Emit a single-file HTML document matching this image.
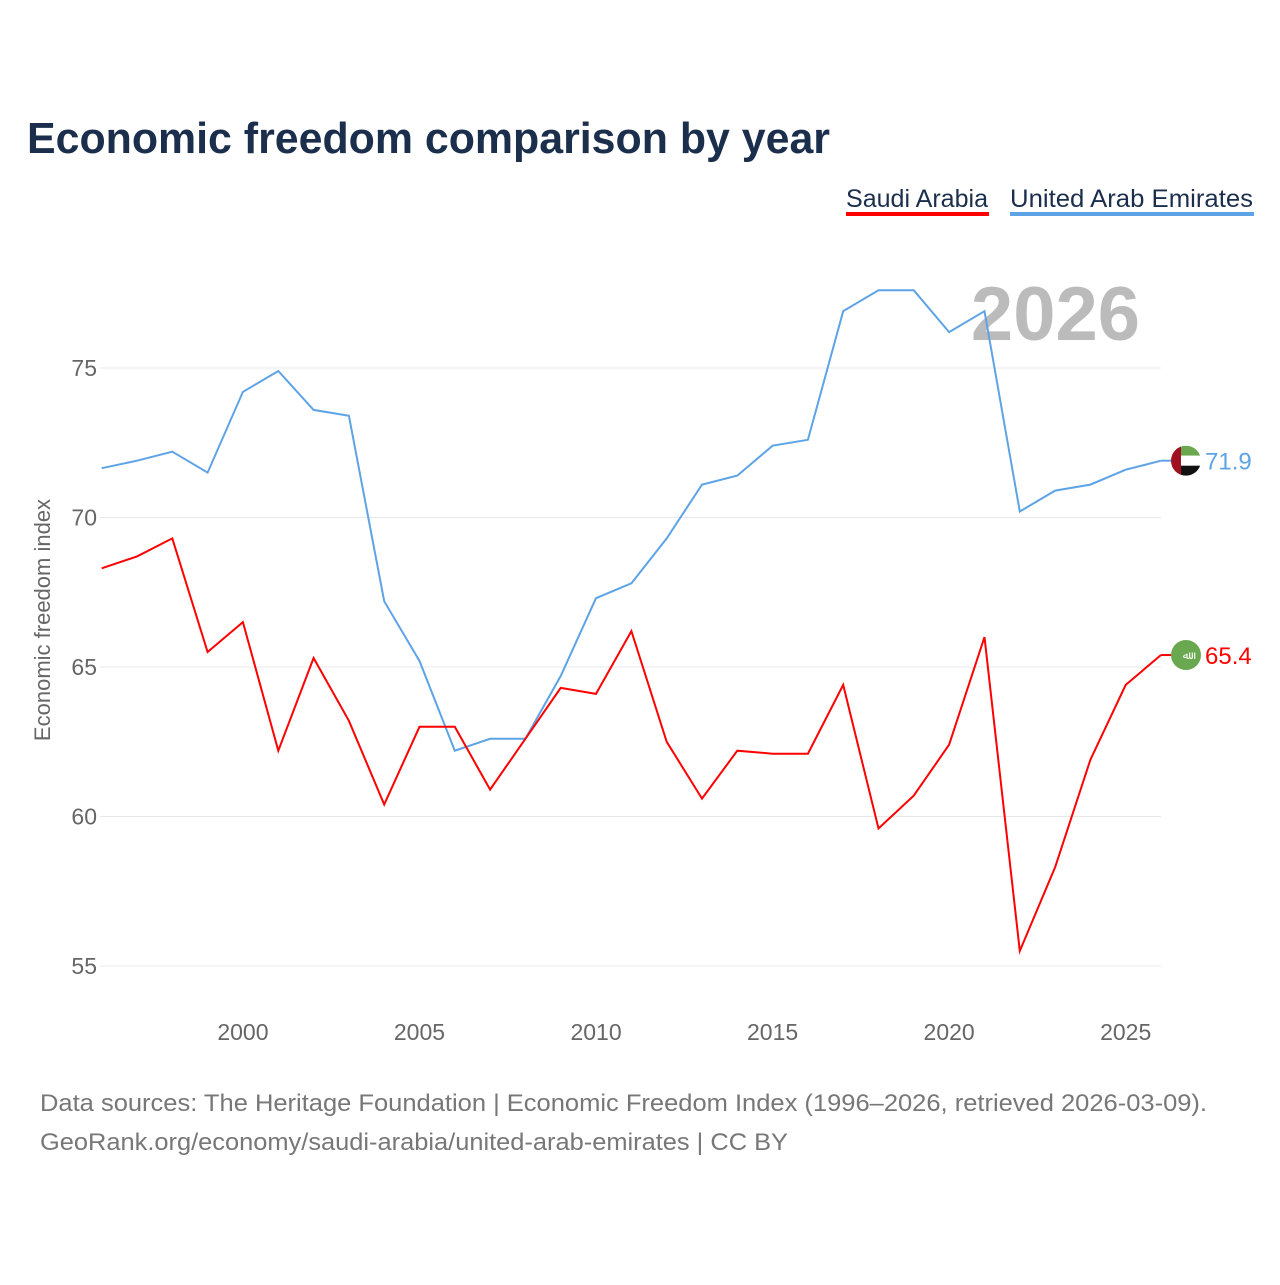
<!DOCTYPE html>
<html><head><meta charset="utf-8"><style>
body{margin:0;background:#fff;width:1280px;height:1280px;overflow:hidden;font-family:"Liberation Sans",sans-serif}
</style></head><body>
<svg id="chart" width="1280" height="1280" xmlns="http://www.w3.org/2000/svg">
<defs><clipPath id="fc"><circle cx="1186" cy="0" r="15"/></clipPath></defs>
<text x="27" y="153" font-size="44" font-weight="bold" fill="#1b2f4d" textLength="803" lengthAdjust="spacingAndGlyphs">Economic freedom comparison by year</text>
<g><text x="846" y="207" font-size="25" fill="#1b2f4d" textLength="142" lengthAdjust="spacingAndGlyphs">Saudi Arabia</text><rect x="846" y="212" width="143" height="4" fill="#ff0000"/></g>
<g><text x="1010" y="207" font-size="25" fill="#1b2f4d" textLength="243" lengthAdjust="spacingAndGlyphs">United Arab Emirates</text><rect x="1010" y="212" width="244" height="4" fill="#5ea3e6"/></g>
<text x="1140" y="340" text-anchor="end" font-size="76" font-weight="bold" fill="#bbbbbb">2026</text>
<text transform="translate(50,620) rotate(-90)" text-anchor="middle" font-size="22" fill="#666">Economic freedom index</text>
<g id="grid"></g><g id="lines"></g><g id="ends"></g>
<text x="40" y="1111" font-size="24" fill="#777" textLength="1167" lengthAdjust="spacingAndGlyphs">Data sources: The Heritage Foundation | Economic Freedom Index (1996–2026, retrieved 2026-03-09).</text>
<text x="40" y="1150" font-size="24" fill="#777" textLength="748" lengthAdjust="spacingAndGlyphs">GeoRank.org/economy/saudi-arabia/united-arab-emirates | CC BY</text>
</svg>
<script>
const years=[1996,1997,1998,1999,2000,2001,2002,2003,2004,2005,2006,2007,2008,2009,2010,2011,2012,2013,2014,2015,2016,2017,2018,2019,2020,2021,2022,2023,2024,2025,2026];
const uae=[71.65,71.9,72.2,71.5,74.2,74.9,73.6,73.4,67.2,65.2,62.2,62.6,62.6,64.7,67.3,67.8,69.3,71.1,71.4,72.4,72.6,76.9,77.6,77.6,76.2,76.9,70.2,70.9,71.1,71.6,71.9];
const saudi=[68.3,68.7,69.3,65.5,66.5,62.2,65.3,63.2,60.4,63.0,63.0,60.9,62.6,64.3,64.1,66.2,62.5,60.6,62.2,62.1,62.1,64.4,59.6,60.7,62.4,66.0,55.5,58.3,61.9,64.4,65.4];
const yTicks=[55,60,65,70,75];
const xTicks=[2000,2005,2010,2015,2020,2025];
const NS="http://www.w3.org/2000/svg";
const x=v=>101.7+(v-1996)*(1161-101.7)/30;
const y=v=>368+(75-v)*29.9;
function mk(t,a,p){const e=document.createElementNS(NS,t);for(const k in a)e.setAttribute(k,a[k]);p.appendChild(e);return e;}
const grid=document.getElementById('grid');
yTicks.forEach(t=>{
 const l=mk('line',{x1:100,x2:1161,y1:y(t),y2:y(t),stroke:'#e8e8e8','stroke-width':1},grid);
 
 
 const tx=mk('text',{x:97,y:y(t)+8,'text-anchor':'end','font-size':23,fill:'#666'},grid);tx.textContent=t;
 
 
});
xTicks.forEach(t=>{
 const tx=mk('text',{x:x(t),y:1040,'text-anchor':'middle','font-size':23,fill:'#666'},grid);tx.textContent=t;
 
 
});
const lines=document.getElementById('lines');
function series(d,c,n){
 const p=mk('path',{d:d.map((v,i)=>(i?'L':'M')+x(years[i]).toFixed(1)+','+y(v).toFixed(1)).join(''),fill:'none',stroke:c,'stroke-width':2},lines);
 
 
}
series(uae,'#5ea3e6','uae-line');series(saudi,'#ff0000','saudi-line');
const ends=document.getElementById('ends');
function end(d,c,n,flag){
 const v=d[d.length-1],cx=1186,cy=y(v);
 const g=mk('g',{},ends);
 
 
 mk('line',{x1:1161,x2:1172,y1:cy,y2:cy,stroke:c,'stroke-width':2},g);
 if(flag==='uae'){
  document.querySelector('#fc circle').setAttribute('cy',cy);
  const f=mk('g',{'clip-path':'url(#fc)'},g);
  mk('rect',{x:cx-15,y:cy-15,width:30,height:10,fill:'#6aa84f'},f);
  mk('rect',{x:cx-15,y:cy-5,width:30,height:10,fill:'#fff'},f);
  mk('rect',{x:cx-15,y:cy+5,width:30,height:10,fill:'#111'},f);
  mk('rect',{x:cx-15,y:cy-15,width:10,height:30,fill:'#a01020'},f);
 } else {
  mk('circle',{cx:cx,cy:cy,r:15,fill:'#6aa84f'},g);
  const t=mk('text',{x:cx,y:cy+4,'text-anchor':'middle','font-size':11,fill:'#fff'},g);t.textContent='ﷲ';
 }
 const tx=mk('text',{x:1205,y:cy+9,'font-size':24,fill:c},g);tx.textContent=v.toFixed(1);
}
end(uae,'#5ea3e6','uae-end-label','uae');end(saudi,'#ff0000','saudi-end-label','sa');
</script>
</body></html>
